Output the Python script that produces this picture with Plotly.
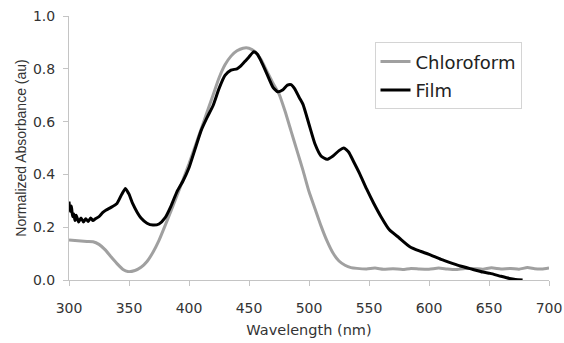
import plotly.graph_objects as go

# Chloroform solution spectrum
chloro_wl = [300, 305, 310, 315, 320, 325, 330, 335, 340, 345, 349, 355, 360, 365, 370, 375,
             380, 385, 390, 395, 400, 405, 410, 415, 420, 425, 430, 435, 440, 445, 450, 455,
             460, 465, 470, 475, 480, 485, 490, 495, 500, 505, 510, 515, 520, 525, 530, 535,
             540, 548, 555, 562, 570, 578, 585, 592, 600, 608, 615, 622, 630, 638, 645, 652,
             660, 668, 675, 682, 688, 694, 700]
chloro_abs = [0.152, 0.150, 0.148, 0.146, 0.145, 0.135, 0.115, 0.088, 0.062, 0.040, 0.032, 0.036,
              0.048, 0.070, 0.105, 0.150, 0.205, 0.262, 0.320, 0.380, 0.440, 0.505, 0.570, 0.635,
              0.700, 0.765, 0.815, 0.848, 0.868, 0.878, 0.878, 0.865, 0.835, 0.790, 0.745, 0.705,
              0.640, 0.565, 0.490, 0.415, 0.335, 0.270, 0.205, 0.148, 0.102, 0.072, 0.056, 0.047,
              0.044, 0.042, 0.045, 0.041, 0.043, 0.040, 0.044, 0.042, 0.041, 0.045, 0.042, 0.040,
              0.044, 0.043, 0.041, 0.046, 0.042, 0.044, 0.041, 0.047, 0.043, 0.042, 0.046]

# Film spectrum
film_wl = [300, 301, 302, 303, 304, 305, 306, 308, 310, 312, 314, 316, 318, 320, 322, 325, 328,
           331, 335, 340, 344, 347, 350, 353, 357, 360, 365, 370, 375, 380, 385, 390, 395, 400,
           405, 410, 415, 420, 425, 430, 435, 440, 443, 447, 450, 454, 457, 460, 465, 470, 474,
           478, 482, 485, 488, 492, 495, 500, 505, 510, 515, 520, 525, 529, 533, 537, 542, 548,
           554, 560, 567, 575, 584, 592, 600, 610, 620, 626, 635, 645, 651, 660, 667, 672, 678]
film_abs = [0.297, 0.260, 0.280, 0.240, 0.250, 0.225, 0.245, 0.220, 0.235, 0.220, 0.232, 0.222,
            0.235, 0.225, 0.232, 0.240, 0.255, 0.265, 0.275, 0.290, 0.325, 0.347, 0.325, 0.290,
            0.255, 0.235, 0.215, 0.208, 0.212, 0.235, 0.280, 0.335, 0.375, 0.425, 0.495, 0.565,
            0.615, 0.660, 0.725, 0.775, 0.795, 0.800, 0.810, 0.830, 0.845, 0.865, 0.855, 0.830,
            0.780, 0.730, 0.713, 0.720, 0.738, 0.740, 0.725, 0.690, 0.665, 0.590, 0.515, 0.470,
            0.457, 0.470, 0.490, 0.500, 0.485, 0.450, 0.405, 0.345, 0.290, 0.240, 0.190, 0.160,
            0.126, 0.110, 0.097, 0.078, 0.062, 0.053, 0.042, 0.030, 0.025, 0.014, 0.006, 0.002,
            0.000]

x_ticks = [300, 350, 400, 450, 500, 550, 600, 650, 700]
y_ticks = [0.0, 0.2, 0.4, 0.6, 0.8, 1.0]
y_tick_labels = ["0.0", "0.2", "0.4", "0.6", "0.8", "1.0"]

wide_font = "DejaVu Sans, Verdana, sans-serif"
narrow_font = "Liberation Sans, Arial, sans-serif"
text_color = "#333333"

fig = go.Figure()
fig.add_trace(go.Scatter(x=chloro_wl, y=chloro_abs, mode="lines", name="Chloroform",
                         legendgroup="a",
                         line=dict(color="#a0a0a0", width=3, shape="spline", smoothing=0.5)))
fig.add_trace(go.Scatter(x=film_wl, y=film_abs, mode="lines", name="Film",
                         legendgroup="b",
                         line=dict(color="#000000", width=3, shape="spline", smoothing=0.5)))

axis_common = dict(showgrid=False, zeroline=False, showline=True, linecolor="#c4c4c4",
                   linewidth=1, ticks="outside", tickcolor="#c4c4c4", ticklen=5,
                   automargin=False,
                   tickfont=dict(family=wide_font, size=14, color=text_color))

fig.update_xaxes(range=[300, 700], tickvals=x_ticks, ticklabelstandoff=10,
                 title=dict(text="Wavelength (nm)", font=dict(family=wide_font, size=14.5, color=text_color),
                            standoff=10),
                 **axis_common)
fig.update_yaxes(range=[0, 1], tickvals=y_ticks, ticktext=y_tick_labels, ticklabelstandoff=5,
                 title=dict(text="Normalized Absorbance (au)", font=dict(family=narrow_font, size=14, color=text_color),
                            standoff=3),
                 **axis_common)

fig.update_layout(
    width=564, height=343,
    margin=dict(l=69, r=15, t=16, b=63),
    paper_bgcolor="white", plot_bgcolor="white",
    showlegend=True,
    legend=dict(x=(374.5 - 69) / 480, y=(280 - 42.3) / 264, xanchor="left", yanchor="top",
                bordercolor="#d4d4d4", borderwidth=1, bgcolor="white",
                font=dict(family=wide_font, size=18, color="#222222"),
                itemwidth=30, tracegroupgap=2, traceorder="grouped"),
)

fig.write_html("out.html", config={"displayModeBar": False},
               post_script="document.body.style.margin='0';")
